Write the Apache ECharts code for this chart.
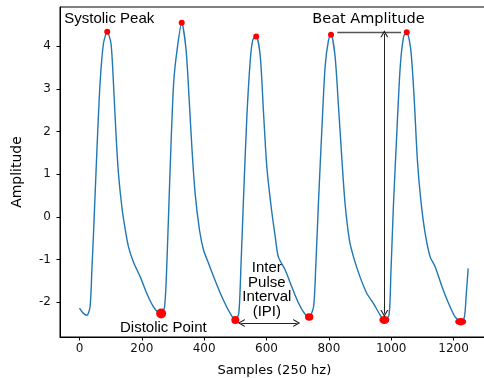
<!DOCTYPE html>
<html>
<head>
<meta charset="utf-8">
<script src="https://cdn.jsdelivr.net/npm/echarts@6/dist/echarts.min.js"></script>
<style>html,body{margin:0;padding:0;background:#fff}#c{width:484px;height:378px}</style>
</head>
<body>
<div id="c"></div>
<script>
// ---- data ----
const samples = [0,12,24,34,40,45,56,66,77,89,101,109,117,125,136,147,157,173,195,216,237,253,262,273,280,291,302,313,328,342,352,361,371,385,398,414,435,457,484,500,511,518,526,537,548,556,567,580,590,601,615,628,638,660,681,703,722,737,751,758,767,778,788,799,807,820,831,842,852,866,879,900,922,943,965,978,993,999,1007,1018,1029,1040,1050,1063,1074,1084,1095,1109,1125,1141,1163,1184,1205,1225,1235,1241,1247];
const amplitude = [-2.14,-2.26,-2.31,-2.11,-1.2,-0.39,1.57,3.13,4.07,4.34,4.07,3.13,1.96,1.02,0.23,-0.31,-0.70,-1.06,-1.41,-1.80,-2.11,-2.25,-2.27,-2.11,-1.17,1.17,3.13,3.91,4.55,3.91,2.74,1.57,0.55,-0.31,-0.78,-1.09,-1.49,-1.88,-2.27,-2.42,-2.27,-1.17,0.39,2.35,3.68,4.15,4.24,3.76,2.50,1.17,0.23,-0.47,-0.94,-1.25,-1.64,-2.03,-2.27,-2.35,-2.11,-1.17,0.39,2.11,3.52,4.15,4.28,3.76,2.58,1.33,0.31,-0.55,-0.94,-1.41,-1.80,-2.03,-2.31,-2.42,-2.31,-1.33,0.23,1.96,3.52,4.23,4.33,3.91,2.74,1.33,0.39,-0.39,-0.94,-1.17,-1.64,-2.03,-2.35,-2.46,-2.35,-1.80,-1.21];
const peakX = [89,328,567,807,1050];
const peakY = [4.34,4.55,4.23,4.27,4.33];
const troughX = [262,500,737,978,1223];
const troughY = [-2.27,-2.42,-2.35,-2.42,-2.46];
const xTicks = [0,200,400,600,800,1000,1200];
const yTicks = [-2,-1,0,1,2,3,4];

// ---- styles ----
const troughSizes = [[10,10],[8,8],[8.5,7.5],[10,8],[11,7.5]];
const chev = 'path://M0,10 L5,0 L10,10 L8.4,10 L5,3.2 L1.6,10 Z';
const DJ = 'DejaVu Sans';
const LS = 'Liberation Sans';

const chart = echarts.init(document.getElementById('c'), null, {renderer:'canvas'});
const lineData = samples.map((s,i)=>[s, amplitude[i]]);
const peaks = peakX.map((s,i)=>[s, peakY[i]]);
const troughs = troughX.map((s,i)=>({value:[s, troughY[i]], symbolSize: troughSizes[i]}));

function txt(coord, text, font, size, align, lh){
  return {coord: coord, value: 0, symbolSize: 0,
    label: {show:true, formatter: text, position:[0,0], align: align||'center', verticalAlign:'middle',
      fontFamily: font, fontSize: size, color:'#000', lineHeight: lh||size*1.2}};
}

chart.setOption({
  animation: false,
  grid: {left: 60, top: 7, width: 428.6, height: 330, show: true, borderColor:'#000', borderWidth:1,
         backgroundColor:'transparent', containLabel:false, outerBoundsMode:'none'},
  xAxis: {
    type:'value', min:-62.5, max:1312.5,
    name:'Samples (250 hz)', nameLocation:'middle', nameGap: 27,
    nameTextStyle:{fontFamily:DJ, fontSize:13, color:'#000'},
    axisLine:{show:true, onZero:false, lineStyle:{color:'#000', width:1}},
    axisTick:{show:true, length:3.5, lineStyle:{color:'#000'}, customValues: xTicks},
    axisLabel:{fontFamily:DJ, fontSize:12, color:'#111', margin:6, customValues: xTicks, formatter: v => String(v)},
    splitLine:{show:false}
  },
  yAxis: {
    type:'value', min:-2.82, max:4.92,
    name:'Amplitude', nameLocation:'middle', nameGap: 36,
    nameTextStyle:{fontFamily:DJ, fontSize:14, color:'#000'},
    axisLine:{show:true, onZero:false, lineStyle:{color:'#000', width:1}},
    axisTick:{show:true, length:3.5, lineStyle:{color:'#000'}, customValues: yTicks},
    axisLabel:{fontFamily:DJ, fontSize:12, color:'#111', margin:9, customValues: yTicks, formatter: v => String(v)},
    splitLine:{show:false}
  },
  series: [
    {
      type:'line', data: lineData, showSymbol:false, smooth:0.25,
      lineStyle:{color:'#1f77b4', width:1.4}, silent:true, z:2,
      markLine: {
        silent:true, symbol:['none','none'], label:{show:false},
        data: [
          [{coord:[827,4.335], symbol:'none', lineStyle:{color:'#555', width:1.3, type:'solid'}},
           {coord:[1032,4.335], symbol:'none'}],
          [{coord:[978,4.29], symbol:chev, symbolSize:[8,7], lineStyle:{color:'#222', width:1, type:'solid'}},
           {coord:[978,-2.27], symbol:chev, symbolSize:[8,7]}],
          [{coord:[519,-2.49], symbol:chev, symbolSize:[8,7], lineStyle:{color:'#222', width:1, type:'solid'}},
           {coord:[697,-2.49], symbol:chev, symbolSize:[8,7]}]
        ]
      },
      markPoint: {
        silent:true, symbol:'circle', symbolSize:0, itemStyle:{color:'transparent'},
        data: [
          txt([-49,4.64], 'Systolic Peak', LS, 15, 'left'),
          txt([927,4.64], 'Beat Amplitude', DJ, 14.5),
          txt([269,-2.6], 'Distolic Point', LS, 15),
          txt([601,-1.72], 'Inter\nPulse\nInterval\n(IPI)', LS, 15, 'center', 14.5)
        ]
      }
    },
    {type:'scatter', data: peaks, symbol:'circle', symbolSize:6, itemStyle:{color:'#ff0000', opacity:1}, silent:true, z:3},
    {type:'scatter', data: troughs, symbol:'circle', itemStyle:{color:'#ff0000', opacity:1}, silent:true, z:3}
  ]
});
</script>
</body>
</html>
